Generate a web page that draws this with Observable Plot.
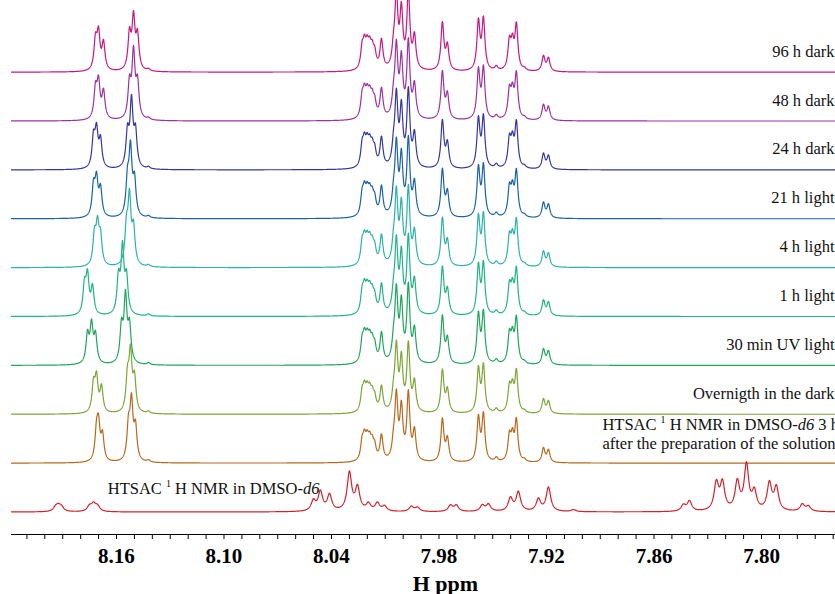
<!DOCTYPE html>
<html><head><meta charset="utf-8">
<script src="https://cdn.jsdelivr.net/npm/d3@7"></script>
<script src="https://cdn.jsdelivr.net/npm/@observablehq/plot@0.6"></script>
<style>
body{margin:0;background:#fff}
#chart{width:835px;height:594px;overflow:hidden}
</style>
</head><body><div id="chart"></div>
<script>
// ---------- data ----------
const traceNames = ["96 h dark","48 h dark","24 h dark","21 h light","4 h light","1 h light","30 min UV light","Overnigth in the dark","HTSAC 1H NMR in DMSO-d6 3 h","HTSAC 1H NMR in DMSO-d6"];
const traceColors = ["#c8177e","#9a33a2","#35379e","#1b62a9","#2cb2a8","#20b486","#20a65c","#7ea536","#b7691d","#d3222d"];
const secondLine = "after the preparation of the solution";
const xTicksMajor = [8.16, 8.10, 8.04, 7.98, 7.92, 7.86, 7.80];
const xLabel = "H ppm";

// shared chemical shifts of the 7.92-8.03 ppm region (ppm)
const midPpm = [8.0229,8.0216,8.0201,8.0187,8.0173,8.0159,8.0121,8.0054,8.0038,8.0010,7.9971,7.9937,7.9781,7.9753,7.9580,7.9552,7.9480,7.9407,7.9390,7.9368,7.9323,7.9217,7.9189];
// peak heights in that region, one list per spectrum (top to bottom, first nine spectra)
const midH96  = [19,21,19,18,16,14,29,16,70,56,75,32,47,24,48,50,4,27,24,44,2,15,13];
const midH48  = [19,21,19,18,16,14,29,16,68,56,75,32,47,24,48,50,4,27,24,44,2,15,13];
const midH24  = [19,21,19,18,16,14,29,16,68,56,75,32,47,24,48,50,4,27,24,44,2,15,13];
const midH21  = [19,21,19,18,16,14,29,16,68,56,75,32,47,24,48,50,4,27,24,44,2,15,13];
const midH4   = [19,21,19,18,16,14,29,16,68,56,75,32,47,24,48,50,4,27,24,44,2,15,13];
const midH1   = [19,21,19,18,16,14,29,16,68,56,75,32,47,24,48,50,4,27,24,44,2,15,13];
const midH30  = [19,21,19,18,16,14,29,16,68,56,75,32,47,24,48,50,4,27,24,44,2,15,13];
const midHOv  = [17,19,17,16,14,12,25,14,62,50,66,29,42,22,43,46,4,24,22,40,2,14,12];
const midH3h  = [17,19,17,16,14,12,25,14,62,50,66,29,42,22,43,46,4,24,22,40,2,14,12];

// the 8.14-8.18 ppm multiplets, [ppm, height]
const left96 = [[8.17172,29],[8.17004,35],[8.16725,27],[8.15275,35],[8.15051,50],[8.14828,33],[8.14214,2]];
const left48 = [[8.17172,29],[8.17004,35],[8.16725,27],[8.15275,34],[8.15051,64],[8.14828,34],[8.14214,2]];
const left24 = [[8.17283,29],[8.17116,35],[8.16893,27],[8.15386,34],[8.15163,64],[8.14940,34],[8.14214,2]];
const left21 = [[8.17283,29],[8.17116,35],[8.16893,27],[8.15386,34],[8.15219,64],[8.14996,34],[8.14214,2]];
const left4  = [[8.17228,29],[8.17060,37],[8.16893,27],[8.15442,35],[8.15275,64],[8.15051,35],[8.14214,2]];
const left1  = [[8.17786,28],[8.17618,37],[8.17339,27],[8.15888,35],[8.15665,64],[8.15442,35],[8.14214,2]];
const left30 = [[8.17618,28],[8.17395,37],[8.17172,27],[8.15721,35],[8.15498,64],[8.15275,35],[8.14214,2]];
const leftOv = [[8.17283,27],[8.17116,33],[8.16837,25],[8.15386,33],[8.15219,56],[8.14996,32],[8.14214,2]];
const left3h = [[8.17116,27],[8.17004,33],[8.16781,25],[8.15330,33],[8.15163,56],[8.14940,32],[8.14214,2]];

// bottom spectrum (HTSAC in DMSO-d6), [ppm, height]
const peaksRed = [[8.1940,4],[8.1924,5],[8.1907,4],[8.1751,5],[8.1728,7],[8.1706,5],
  [8.0501,10],[8.0462,19],[8.0411,16],[8.0300,38],[8.0255,23],[8.0194,7],[8.0144,8],[8.0104,5],
  [7.9954,5],[7.9920,4],[7.9736,6],[7.9703,6],[7.9558,6],[7.9524,7],[7.9401,13],[7.9357,19],
  [7.9245,12],[7.9189,24],[7.9050,2],
  [7.8436,6],[7.8402,10],[7.8252,27],[7.8218,27],[7.8135,28],[7.8084,45],[7.8040,18],
  [7.7956,27],[7.7917,23],[7.7772,7],[7.7738,5]];

// ---------- build spectra ----------
const midH = [midH96,midH48,midH24,midH21,midH4,midH1,midH30,midHOv,midH3h];
const lefts = [left96,left48,left24,left21,left4,left1,left30,leftOv,left3h];
const peakLists = midH.map((h,i)=> lefts[i].concat(midPpm.map((p,j)=>[p,h[j]])));
peakLists.push(peaksRed);

const xDomain = [8.2186, 7.7587];
const step = 48.87, base = 22.5;
const nT = traceNames.length;
const offsetOf = i => base + (nT-1-i)*step;
const samples = d3.range(82186, 77586, -1).map(v=>v/10000);

const spectra = peakLists.map((pk,i)=>{
  const g = i===nT-1 ? 0.0015 : 0.0010;
  const off = offsetOf(i);
  return samples.map(x=>{
    let s = 0;
    for (const [p,h] of pk) { const d=(x-p)/g; s += h/(1+d*d); }
    return {x, y: off + s};
  });
});

const minorTicks = d3.range(776, 822).map(v=>v/100);
const serif = "'Liberation Serif','Times New Roman',Times,serif";

const marks = [];
spectra.forEach((sp,i)=>{
  marks.push(Plot.line(sp,{x:"x",y:"y",stroke:traceColors[i],strokeWidth:1.2,clip:true}));
});
// labels on the right
const rightLabels = traceNames.slice(0,8).map((t,i)=>({t, y: offsetOf(i)+15.5}));
marks.push(Plot.text(rightLabels,{y:"y",text:"t",frameAnchor:"right",textAnchor:"end",lineAnchor:"bottom",dx:-1,fontSize:16.5,fontFamily:serif,fill:"#111"}));
marks.push(Plot.text([traceNames[8]],{x:7.8888,y:offsetOf(8)+33,text:d=>d,textAnchor:"start",lineAnchor:"bottom",fontSize:16.5,fontFamily:serif,fill:"#111"}));
marks.push(Plot.text([secondLine],{x:7.8888,y:offsetOf(8)+14,text:d=>d,textAnchor:"start",lineAnchor:"bottom",fontSize:16.5,fontFamily:serif,fill:"#111"}));
marks.push(Plot.text([traceNames[9]],{x:8.1649,y:offsetOf(9)+18.5,text:d=>d,textAnchor:"start",lineAnchor:"bottom",fontSize:16.5,fontFamily:serif,fill:"#111"}));
// axis
marks.push(Plot.ruleY([0],{stroke:"#000",strokeWidth:1}));
marks.push(Plot.ruleX(minorTicks,{x:d=>d,y1:0,y2:-5,stroke:"#000",strokeWidth:1}));
marks.push(Plot.text(xTicksMajor,{x:d=>d,y:-28.5,text:d=>d.toFixed(2),lineAnchor:"bottom",fontSize:21,fontWeight:"bold",fontFamily:serif,fill:"#000"}));
marks.push(Plot.text([xLabel],{x:7.9764,y:-56,text:d=>d,lineAnchor:"bottom",fontSize:22,fontWeight:"bold",fontFamily:serif,fill:"#000"}));

const plot = Plot.plot({
  width:835, height:594,
  marginTop:0, marginBottom:60, marginLeft:11, marginRight:0,
  style:{fontFamily:serif,background:"#fff",overflow:"hidden"},
  x:{domain:xDomain, axis:null},
  y:{domain:[0,534], axis:null},
  marks
});
document.getElementById("chart").appendChild(plot);

// rich text (superscript 1, italic d6)
d3.select(plot).selectAll("text").each(function(){
  const s = this.textContent;
  if (!s.startsWith("HTSAC 1H")) return;
  const tail = s.slice("HTSAC 1H NMR in DMSO-d6".length);
  const t = d3.select(this); t.text(null);
  t.append("tspan").text("HTSAC ");
  t.append("tspan").attr("dy",-7).attr("font-size",10).text("1");
  t.append("tspan").attr("dy",7).text(" H NMR in DMSO-");
  t.append("tspan").attr("font-style","italic").text("d6");
  if (tail) t.append("tspan").text(tail);
});
</script>
</body></html>
